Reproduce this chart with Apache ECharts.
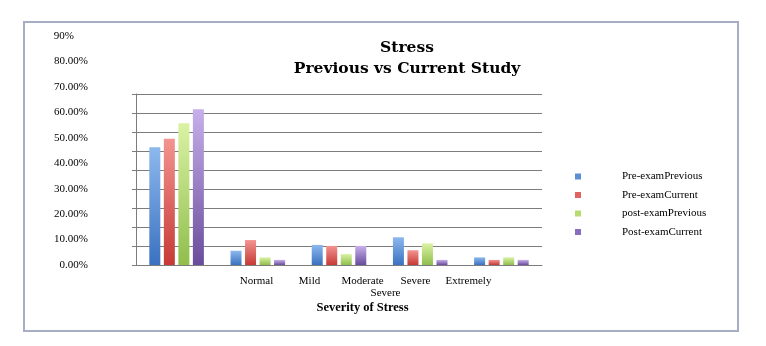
<!DOCTYPE html>
<html>
<head>
<meta charset="utf-8">
<script src="https://cdn.jsdelivr.net/npm/echarts@6/dist/echarts.min.js"></script>
<style>html,body{margin:0;padding:0;background:#fff;}#c{width:766px;height:346px;}</style>
</head>
<body>
<div id="c"></div>
<script>
// Data
var groups = ['Normal', 'Mild', 'Moderate', 'Severe', 'Extremely'];
var shownLabels = ['Normal', 'Mild', 'Moderate\nSevere', 'Severe', 'Extremely'];
var seriesNames = ['Pre-examPrevious', 'Pre-examCurrent', 'post-examPrevious', 'Post-examCurrent'];
var preExamPrevious = [46.3, 5.6, 7.9, 10.9, 3.0];
var preExamCurrent = [49.6, 9.8, 7.5, 5.8, 2.0];
var postExamPrevious = [55.7, 3.0, 4.3, 8.5, 3.0];
var postExamCurrent = [61.2, 2.0, 7.5, 2.0, 2.0];
var yTicks = [0, 10, 20, 30, 40, 50, 60, 70, 80, 90];

var seriesData = [preExamPrevious, preExamCurrent, postExamPrevious, postExamCurrent];
var grads = [['#8db8ee', '#3a72c0'], ['#f39490', '#c63a36'], ['#daf2a4', '#90be4c'], ['#c6b0ea', '#6a4c9c']];
var legendCols = ['#5b8fd6', '#e06262', '#b6dc70', '#8a6cc0'];
var font = 'Liberation Serif';

var chart = echarts.init(document.getElementById('c'), null, {renderer: 'canvas'});
var series = seriesData.map(function (d, i) {
  return {
    name: seriesNames[i], type: 'bar', xAxisIndex: 0, yAxisIndex: 0,
    data: d, barWidth: 11, barGap: '32%',
    itemStyle: {
      color: new echarts.graphic.LinearGradient(0, 0, 0, 1, [
        {offset: 0, color: grads[i][0]}, {offset: 1, color: grads[i][1]}
      ])
    },
    z: 3
  };
});

chart.setOption({
  animation: false,
  backgroundColor: '#ffffff',
  title: {
    text: 'Stress\nPrevious vs Current Study',
    left: 402, top: 32, textAlign: 'center',
    textStyle: {fontFamily: 'DejaVu Serif', fontWeight: 'bold', fontSize: 15.5, lineHeight: 21, color: '#000'}
  },
  legend: {
    orient: 'vertical', left: 570, top: 166, itemWidth: 6, itemHeight: 6, itemGap: 7.5,
    icon: 'rect',
    data: seriesNames.map(function (n, i) { return {name: n, itemStyle: {color: legendCols[i]}}; }),
    textStyle: {fontFamily: font, fontSize: 11, color: '#000', padding: [0, 0, 0, 36]}
  },
  graphic: [{
    type: 'rect', shape: {x: 24, y: 22, width: 714, height: 309},
    style: {fill: 'none', stroke: '#a7aec4', lineWidth: 2}, z: -1
  }],
  grid: [
    {left: 136, right: 224, top: 36, bottom: 81},
    {left: 136, right: 224, top: 94, bottom: 81},
    {left: 230, width: 265, top: 200, bottom: 81}
  ],
  xAxis: [
    {gridIndex: 0, type: 'category', data: groups, show: false},
    {gridIndex: 1, type: 'value', min: 0, max: 1, axisLine: {show: true, onZero: false, lineStyle: {color: '#7c7c7c'}},
      axisTick: {show: false}, axisLabel: {show: false}, splitLine: {show: false}},
    {gridIndex: 2, type: 'category', data: shownLabels,
      axisLine: {show: false}, axisTick: {show: false},
      axisLabel: {interval: 0, margin: 10, fontFamily: font, fontSize: 11, color: '#000', lineHeight: 12,
        formatter: function (v) {
          if (v.indexOf('\n') >= 0) { return '{a|Moderate}\n{b|Severe}'; }
          return v;
        },
        rich: {a: {fontFamily: font, fontSize: 11, color: '#000', lineHeight: 12},
               b: {fontFamily: font, fontSize: 11, color: '#000', lineHeight: 12, padding: [0, 0, 0, 46]}}
      },
      name: 'Severity of Stress', nameLocation: 'middle', nameGap: 36,
      nameTextStyle: {fontFamily: font, fontWeight: 'bold', fontSize: 12.5, color: '#000'}
    }
  ],
  yAxis: [
    {gridIndex: 0, type: 'value', min: 0, max: 90, interval: 10,
      axisLine: {show: false}, axisTick: {show: false}, splitLine: {show: false},
      axisLabel: {margin: 48, fontFamily: font, fontSize: 11, color: '#000',
        formatter: function (v) { return v === 90 ? '{t|90%}' : v.toFixed(2) + '%'; },
        rich: {t: {fontFamily: font, fontSize: 11, color: '#000', padding: [0, 14, 0, 0]}}
      }
    },
    {gridIndex: 1, type: 'value', min: 0, max: 9, interval: 1,
      axisLine: {show: true, lineStyle: {color: '#7c7c7c'}},
      axisTick: {show: true, length: 4, lineStyle: {color: '#7c7c7c'}},
      axisLabel: {show: false},
      splitLine: {show: true, lineStyle: {color: '#7c7c7c', width: 1}}
    },
    {gridIndex: 2, type: 'value', show: false}
  ],
  series: series
});
</script>
</body>
</html>
